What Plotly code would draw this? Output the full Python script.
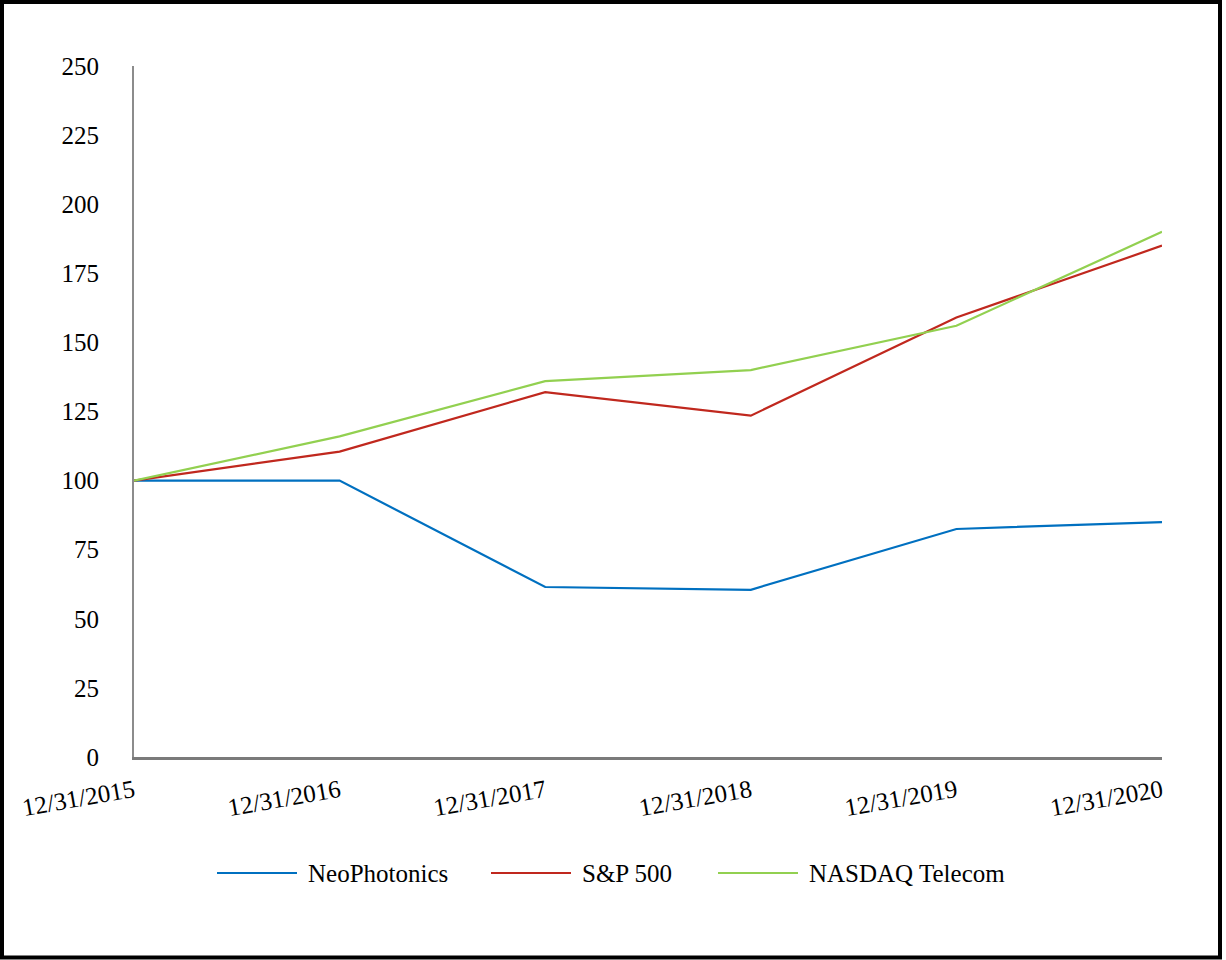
import plotly.graph_objects as go

dates = ["12/31/2015", "12/31/2016", "12/31/2017", "12/31/2018", "12/31/2019", "12/31/2020"]
neophotonics = [100, 100, 61.5, 60.5, 82.5, 85]
sp500 = [100, 110.5, 132, 123.5, 159, 185]
nasdaq_telecom = [100, 116, 136, 140, 156, 190]
y_ticks = [0, 25, 50, 75, 100, 125, 150, 175, 200, 225, 250]
series_names = ["NeoPhotonics", "S&P 500", "NASDAQ Telecom"]
series_colors = ["#0070C0", "#C0281E", "#92D050"]

W, H = 1226, 960
L, R, T, B = 134, 64, 66, 203
pw, ph = W - L - R, H - T - B

FONT = "Liberation Serif"
x_idx = list(range(len(dates)))

fig = go.Figure()
for name, vals, col in zip(series_names, [neophotonics, sp500, nasdaq_telecom], series_colors):
    fig.add_trace(go.Scatter(x=x_idx, y=vals, mode="lines", name=name,
                             line=dict(color=col, width=2.2), showlegend=False))

def px_x(x):
    return (x - L) / pw

def px_y(y):
    return (H - B - y) / ph

# outer frame
fig.add_shape(type="rect", xref="paper", yref="paper",
              x0=px_x(2), x1=px_x(1220), y0=px_y(957.5), y1=px_y(2),
              line=dict(color="black", width=4), fillcolor="rgba(0,0,0,0)")

# custom legend (line sample + label)
legend_y = 873
legend_starts = [217, 491, 718]
for name, col, x0 in zip(series_names, series_colors, legend_starts):
    fig.add_shape(type="line", xref="paper", yref="paper",
                  x0=px_x(x0), x1=px_x(x0 + 80), y0=px_y(legend_y), y1=px_y(legend_y),
                  line=dict(color=col, width=2.2))
    fig.add_annotation(xref="paper", yref="paper", x=px_x(x0 + 89), y=px_y(legend_y),
                       text=name, showarrow=False, xanchor="left", yanchor="middle",
                       font=dict(family=FONT, size=25, color="black"))

fig.update_layout(
    width=W, height=H,
    margin=dict(l=L, r=R, t=T, b=B),
    paper_bgcolor="white", plot_bgcolor="white",
    font=dict(family=FONT, size=25, color="black"),
    showlegend=False,
    xaxis=dict(range=[0, len(dates) - 1], tickvals=x_idx, ticktext=dates,
               tickangle=-10, showgrid=False, zeroline=False,
               showline=True, linecolor="#7a7a7a", linewidth=2.5,
               ticks="outside", ticklen=7, tickcolor="rgba(0,0,0,0)",
               tickfont=dict(family=FONT, size=25, color="black")),
    yaxis=dict(range=[0, 250], tickvals=y_ticks, showgrid=False, zeroline=False,
               showline=True, linecolor="#8c8c8c", linewidth=2,
               ticks="outside", ticklen=28, tickcolor="rgba(0,0,0,0)",
               tickfont=dict(family=FONT, size=25, color="black")),
)

fig.write_html("out.html", config={"displayModeBar": False},
               post_script="document.body.style.margin='0';document.body.style.overflow='hidden';")
